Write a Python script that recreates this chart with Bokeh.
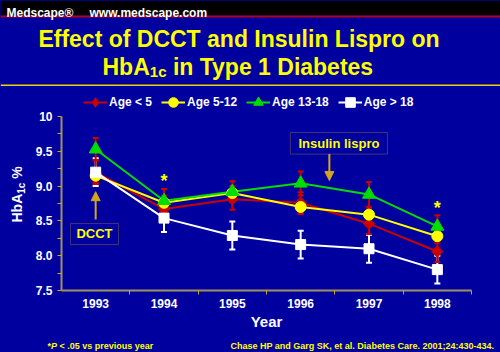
import numpy as np
from bokeh.plotting import figure
from bokeh.layouts import column, row
from bokeh.models import (Range1d, FixedTicker, Label, BoxAnnotation, Arrow, NormalHead,
                          TeeHead, Whisker, ColumnDataSource, Legend, LegendItem)
from bokeh.core.properties import value
from bokeh.embed import file_html
from bokeh.resources import INLINE

# ---------------- data ----------------
years = [1993, 1994, 1995, 1996, 1997, 1998]
year_labels = ["1993", "1994", "1995", "1996", "1997", "1998"]
age_lt5 = [9.20, 8.67, 8.81, 8.76, 8.46, 8.06]
age_5_12 = [9.15, 8.76, 8.90, 8.70, 8.59, 8.28]
age_13_18 = [9.53, 8.79, 8.92, 9.04, 8.88, 8.42]
age_gt18 = [9.20, 8.54, 8.29, 8.16, 8.10, 7.80]
err_lt5 = [0.17, 0.16, 0.15, 0.15, 0.15, 0.15]
err_5_12 = [0.10, 0.10, 0.10, 0.10, 0.10, 0.10]
err_13_18 = [0.16, 0.17, 0.15, 0.17, 0.18, 0.16]
err_gt18 = [0.20, 0.20, 0.20, 0.20, 0.20, 0.20]
series_names = ["Age < 5", "Age 5-12", "Age 13-18", "Age > 18"]
star_years = [1994, 1998]
star_level = [9.07, 8.68]
y_ticks = [7.5, 8.0, 8.5, 9.0, 9.5, 10.0]
y_tick_labels = ["7.5", "8.0", "8.5", "9.0", "9.5", "10"]

# ---------------- style ----------------
W, H = 500, 352
HEAD_H = 86          # header + title strip
LEFT_W = 31          # strip holding the rotated y label
MAIN_W = W - LEFT_W
MAIN_BL, MAIN_BR, MAIN_BB = 61 - LEFT_W, 29, 44   # borders of the chart figure
FRAME_H = 204
MAIN_H = FRAME_H + MAIN_BB
FOOT_H = H - HEAD_H - MAIN_H
BLUE = "#00009F"
RED = "#CC0000"
YEL = "#FFFF00"
GRN = "#00DD00"
WHT = "#FFFFFF"
GOLD = "#D4A520"
AXIS = "#A09060"
FONT = "Liberation Sans"
BG = {"background-color": BLUE}


def blank(w, h):
    f = figure(width=w, height=h, x_range=Range1d(0, w), y_range=Range1d(h, 0),
               output_backend="svg", toolbar_location=None, x_axis_type=None, y_axis_type=None,
               min_border=0, background_fill_color=BLUE, border_fill_color=BLUE,
               outline_line_color=None, title=None, styles=BG)
    return f


def txt(f, x, y, s, size, color, style="bold", align="left", angle=0.0):
    f.text(x=[x], y=[y], text=[s], text_font=value(FONT), text_font_size=f"{size}px",
           text_font_style=style, text_color=color, text_align=align,
           text_baseline="alphabetic", angle=angle)


# ---------------- header / title ----------------
head = blank(W, HEAD_H)
head.quad(left=[0], right=[W], top=[0], bottom=[15], fill_color="black", line_color=None)
head.quad(left=[0], right=[W], top=[15], bottom=[17], fill_color="#B0001E", line_color=None)
head.quad(left=[0], right=[W], top=[84], bottom=[86], fill_color="#E8D800", line_color=None)
txt(head, 6, 12, "Medscape®", 12, WHT)
txt(head, 89, 12, "www.medscape.com", 12, WHT)
txt(head, 238.5, 38, "Effect of DCCT and Insulin Lispro on", 23, YEL, align="center")
x0 = 102.0
txt(head, x0, 66, "HbA", 23, YEL)
txt(head, x0 + 47.3, 71, "1c", 15, YEL)
txt(head, x0 + 47.3 + 16.7 + 6.4, 66, "in Type 1 Diabetes", 23, YEL)

# ---------------- rotated y label ----------------
left = blank(LEFT_W, H - HEAD_H)
oy = HEAD_H
txt(left, 16.5, 222 - oy, "HbA", 14, WHT, angle=np.pi / 2)
txt(left, 21.0, 193.2 - oy, "1c", 10, WHT, angle=np.pi / 2)
txt(left, 16.5, 178.2 - oy, "%", 14, WHT, angle=np.pi / 2)

# ---------------- chart ----------------
p = figure(width=MAIN_W, height=MAIN_H, x_range=Range1d(1992.5, 1998.5),
           y_range=Range1d(7.5, 7.5 + FRAME_H / 69.6),
           output_backend="svg", toolbar_location=None, title=None,
           min_border_left=MAIN_BL, min_border_right=MAIN_BR, min_border_top=0,
           min_border_bottom=MAIN_BB, styles=BG,
           background_fill_color=BLUE, border_fill_color=BLUE, outline_line_color=None)
p.xgrid.visible = False
p.ygrid.visible = False

xa = p.xaxis[0]
xa.ticker = FixedTicker(ticks=years, minor_ticks=[1993.5, 1994.5, 1995.5, 1996.5, 1997.5, 1998.5])
xa.major_label_overrides = {y: s for y, s in zip(years, year_labels)}
xa.bounds = (1992.5, 1998.5)
xa.major_tick_out = 0
xa.major_tick_in = 0
xa.minor_tick_out = 4
xa.minor_tick_in = 0
xa.minor_tick_line_color = GOLD
xa.axis_line_color = AXIS
xa.axis_line_width = 2
xa.major_label_text_color = WHT
xa.major_label_text_font = FONT
xa.major_label_text_font_style = "bold"
xa.major_label_text_font_size = "12px"
xa.major_label_standoff = 4
xa.axis_label = "Year"
xa.axis_label_text_color = WHT
xa.axis_label_text_font = FONT
xa.axis_label_text_font_style = "bold"
xa.axis_label_text_font_size = "15px"
xa.axis_label_standoff = 2

ya = p.yaxis[0]
ya.ticker = FixedTicker(ticks=y_ticks, minor_ticks=[7.75, 8.25, 8.75, 9.25, 9.75])
ya.major_label_overrides = {t: s for t, s in zip(y_ticks, y_tick_labels)}
ya.bounds = (7.5, 10.0)
ya.major_tick_out = 4
ya.major_tick_in = 0
ya.minor_tick_out = 4
ya.minor_tick_in = 0
ya.major_tick_line_color = GOLD
ya.minor_tick_line_color = GOLD
ya.axis_line_color = AXIS
ya.axis_line_width = 2
ya.major_label_text_color = WHT
ya.major_label_text_font = FONT
ya.major_label_text_font_style = "bold"
ya.major_label_text_font_size = "12px"
ya.major_label_standoff = 5


def whisk(vals, errs, color):
    v = np.array(vals)
    e = np.array(errs)
    src = ColumnDataSource(dict(x=years, upper=v + e, lower=v - e))
    w = Whisker(source=src, base="x", upper="upper", lower="lower",
                line_color=color, line_width=2,
                upper_head=TeeHead(size=6, line_color=color, line_width=2),
                lower_head=TeeHead(size=6, line_color=color, line_width=2))
    p.add_layout(w)


whisk(age_gt18, err_gt18, WHT)
whisk(age_5_12, err_5_12, RED)
whisk(age_13_18, err_13_18, RED)
whisk(age_lt5, err_lt5, RED)

r_l1 = p.line(years, age_lt5, line_color=RED, line_width=2)
r_l2 = p.line(years, age_5_12, line_color=YEL, line_width=2)
r_l3 = p.line(years, age_13_18, line_color=GRN, line_width=2)
r_l4 = p.line(years, age_gt18, line_color=WHT, line_width=2)
# diamond glyph (used by the legend) lies fully under the rotated-square markers
r_d1 = p.scatter(years, age_lt5, marker="diamond", size=10, fill_color=RED, line_color=RED)
r_m1 = p.scatter(years, age_lt5, marker="square", angle=np.pi / 4, size=8, fill_color=RED, line_color=RED)
r_m2 = p.scatter(years, age_5_12, marker="circle", size=11, fill_color=YEL, line_color=YEL)
r_m3 = p.scatter(years, age_13_18, marker="triangle", size=13, fill_color=GRN, line_color=GRN)
r_m4 = p.scatter(years, age_gt18, marker="square", size=10, fill_color=WHT, line_color=WHT)

p.text(x=star_years, y=star_level, text=["*"] * len(star_years), text_color=YEL,
       text_font=value(FONT), text_font_size="18px", text_font_style="bold",
       text_align="center", text_baseline="middle")

# annotation boxes and arrows
p.add_layout(BoxAnnotation(left=1992.632, right=1993.334, top=8.463, bottom=8.161,
                           fill_alpha=0, line_color=GOLD, line_width=1))
p.add_layout(Label(x=1992.983, y=8.312, text="DCCT", text_color=YEL, text_font=FONT,
                   text_font_size="13px", text_font_style="bold",
                   text_align="center", text_baseline="middle"))
p.add_layout(Arrow(x_start=years[0], y_start=8.52, x_end=years[0], y_end=8.92,
                   line_color=GOLD, line_width=2,
                   end=NormalHead(size=9, fill_color=GOLD, line_color=GOLD)))

p.add_layout(BoxAnnotation(left=1995.85, right=1997.27, top=9.77, bottom=9.46,
                           fill_alpha=0, line_color=GOLD, line_width=1))
p.add_layout(Label(x=1996.56, y=9.615, text="Insulin lispro", text_color=YEL, text_font=FONT,
                   text_font_size="13px", text_font_style="bold",
                   text_align="center", text_baseline="middle"))
p.add_layout(Arrow(x_start=1996.42, y_start=9.46, x_end=1996.42, y_end=9.08,
                   line_color=GOLD, line_width=2,
                   end=NormalHead(size=9, fill_color=GOLD, line_color=GOLD)))

items = [LegendItem(label=n, renderers=[l, m]) for n, l, m in
         zip(series_names, [r_l1, r_l2, r_l3, r_l4], [r_d1, r_m2, r_m3, r_m4])]
legend = Legend(items=items, orientation="horizontal", location=(22, 175),
                glyph_width=24, glyph_height=26, label_height=26,
                label_text_color=WHT, label_text_font=FONT,
                label_text_font_size="12px", label_text_font_style="bold",
                label_standoff=2, spacing=9, padding=0, margin=0,
                background_fill_alpha=0, border_line_alpha=0)
p.add_layout(legend)

# ---------------- footer ----------------
foot = blank(MAIN_W, FOOT_H)
fy = 345 - HEAD_H - MAIN_H
txt(foot, 47 - LEFT_W, fy, "*", 9, YEL)
txt(foot, 50.5 - LEFT_W, fy, "P", 9, YEL, style="bold italic")
txt(foot, 59 - LEFT_W, fy, "< .05 vs previous year", 9, YEL)
txt(foot, 230 - LEFT_W, fy, "Chase HP and Garg SK, et al. Diabetes Care. 2001;24:430-434.", 9, YEL)

layout = column(head,
                row(left, column(p, row(foot, spacing=0, styles=BG), spacing=0, styles=BG),
                    spacing=0, styles=BG),
                spacing=0, styles=BG)
open("out.html", "w").write(file_html(layout, INLINE))
